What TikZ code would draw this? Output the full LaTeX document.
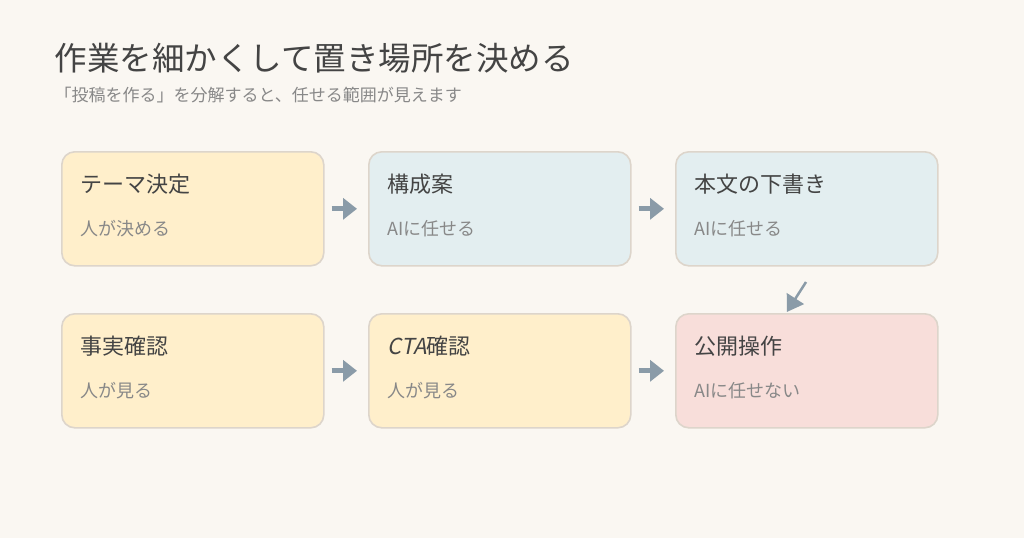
\documentclass[tikz,border=0pt]{standalone}
\usepackage{fontspec}
\setmainfont{Noto Sans CJK JP}
\newfontfamily\slantfont[FakeSlant=0.2]{Noto Sans CJK JP}
\usetikzlibrary{arrows.meta}
\definecolor{bgcol}{HTML}{FAF7F2}
\definecolor{edgecol}{HTML}{DDD5CB}
\definecolor{humancol}{HTML}{FFEFCB}
\definecolor{aicol}{HTML}{E3EEF0}
\definecolor{stopcol}{HTML}{F8DEDA}
\definecolor{arrcol}{HTML}{8A9BA8}
\definecolor{titlecol}{HTML}{444444}
\definecolor{subcol}{HTML}{888888}
\tikzset{
  taskbox/.style={draw=edgecol, line width=1.6pt, rounded corners=13pt,
    minimum width=262pt, minimum height=114pt, anchor=north west},
  head/.style={anchor=west, text=titlecol, font=\fontsize{22}{25}\selectfont},
  note/.style={anchor=west, text=subcol, font=\fontsize{18}{21}\selectfont},
  flow/.style={arrcol, line width=5pt, -{Triangle[length=14pt,width=21pt]}}
}
\begin{document}
\begin{tikzpicture}[x=1pt,y=-1pt]
    \fill[bgcol] (0,0) rectangle (1024,538);
    \useasboundingbox (0,0) rectangle (1024,538);
    % Title
    \node[anchor=west, text=titlecol, font=\fontsize{32.5}{36}\selectfont] (title) at (51,58) {作業を細かくして置き場所を決める};
    \node[anchor=west, text=subcol, font=\fontsize{17}{20}\selectfont] (subtitle) at (51,95) {「投稿を作る」を分解すると、任せる範囲が見えます};

    % Boxes
    \node[taskbox, fill=humancol] (theme) at (61,151) {};
    \node[taskbox, fill=aicol] (outline) at (368,151) {};
    \node[taskbox, fill=aicol] (draft) at (675,151) {};
    \node[taskbox, fill=humancol] (facts) at (61,313) {};
    \node[taskbox, fill=humancol] (cta) at (368,313) {};
    \node[taskbox, fill=stopcol] (publish) at (675,313) {};

    % Labels
    \foreach \n/\h/\s in {theme/テーマ決定/人が決める, outline/構成案/AIに任せる, draft/本文の下書き/AIに任せる,
        facts/事実確認/人が見る, cta/{\slantfont CTA}確認/人が見る, publish/公開操作/AIに任せない}{
      \node[head] at ([xshift=16pt,yshift=-33pt]\n.north west) {\h};
      \node[note] at ([xshift=16pt,yshift=-78pt]\n.north west) {\s};
    }

    % Arrows
    \draw[flow] ([xshift=7pt]theme.east) -- ([xshift=-11pt]outline.west);
    \draw[flow] ([xshift=7pt]outline.east) -- ([xshift=-11pt]draft.west);
    \draw[flow] ([xshift=7pt]facts.east) -- ([xshift=-11pt]cta.west);
    \draw[flow] ([xshift=7pt]cta.east) -- ([xshift=-11pt]publish.west);
    \coordinate (turn) at (806,282);
    \draw[arrcol, line width=2.5pt, -{Triangle[length=16pt,width=20pt]}] (turn) -- ([xshift=-20pt,yshift=1pt]publish.north);
\end{tikzpicture}
\end{document}
